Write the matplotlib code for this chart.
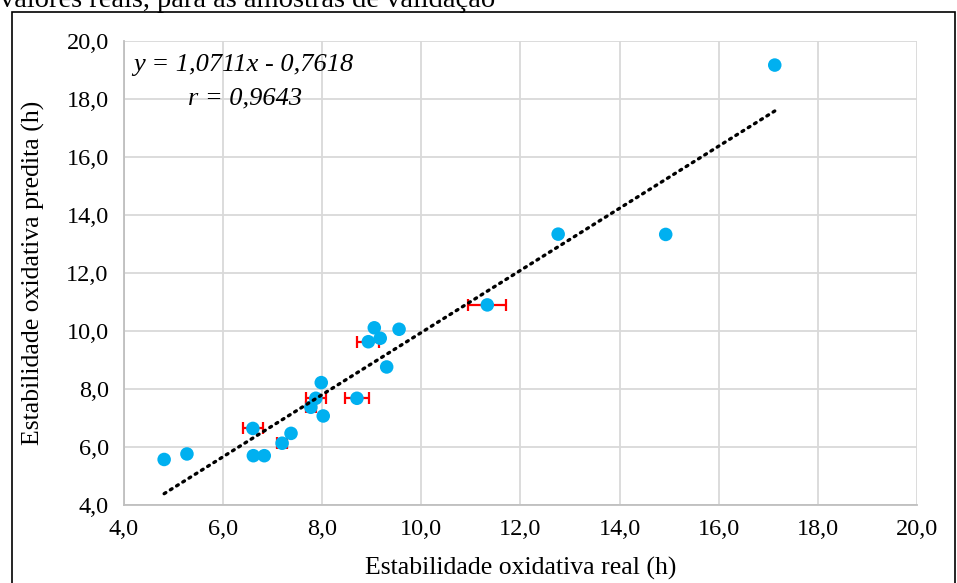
import numpy as np
import matplotlib.pyplot as plt
from matplotlib.patches import Rectangle

plt.rcParams['font.family'] = ['Liberation Serif', 'DejaVu Serif']

# measured (real) vs predicted oxidative stability, validation samples
real = [4.81, 5.27, 6.61, 6.83, 6.60, 7.19, 7.37, 7.77, 7.87, 7.98, 8.02,
        8.70, 8.93, 9.05, 9.17, 9.55, 9.30, 11.33, 12.76, 14.93, 17.13]
pred = [5.57, 5.76, 5.70, 5.70, 6.64, 6.13, 6.47, 7.37, 7.68, 8.22, 7.07,
        7.68, 9.63, 10.11, 9.75, 10.06, 8.76, 10.90, 13.34, 13.33, 19.17]
xerr = [0, 0, 0, 0, 0.2, 0.1, 0, 0.1, 0.2, 0, 0,
        0.25, 0.22, 0, 0, 0, 0, 0.38, 0, 0, 0]

slope, intercept = 1.0711, -0.7618
ticks = [4, 6, 8, 10, 12, 14, 16, 18, 20]
tick_labels = ['4,0', '6,0', '8,0', '10,0', '12,0', '14,0', '16,0', '18,0', '20,0']

fig = plt.figure(figsize=(9.57, 5.83), dpi=100)
ax = fig.add_axes([124/957, 1-505/583, (917-124)/957, (505-41)/583])

ax.set_xlim(4, 20)
ax.set_ylim(4, 20)
ax.set_xticks(ticks)
ax.set_yticks(ticks)
ax.set_xticklabels(tick_labels)
ax.set_yticklabels(tick_labels)
ax.tick_params(length=0, labelsize=17.5)
ax.tick_params(axis='x', pad=10)
ax.tick_params(axis='y', pad=11)
ax.grid(True, color='#d9d9d9', linewidth=1.3)
ax.set_axisbelow(True)
for s in ['top', 'right']:
    ax.spines[s].set_visible(False)
for s in ['left', 'bottom']:
    ax.spines[s].set_color('#bfbfbf')
    ax.spines[s].set_linewidth(1.3)

# red horizontal error bars (only where nonzero)
xs = [x for x, e in zip(real, xerr) if e > 0]
ys = [y for y, e in zip(pred, xerr) if e > 0]
es = [e for e in xerr if e > 0]
ax.errorbar(xs, ys, xerr=es, fmt='none', ecolor='#ff0000', elinewidth=1.6,
            capsize=4, capthick=1.6, zorder=2)

ax.scatter(real, pred, s=95, color='#00b0f0', edgecolors='none', zorder=3)

xl = np.array([min(real), max(real)])
ax.plot(xl, slope*xl + intercept, color='black', linestyle=(0, (0.6, 1.6)),
        linewidth=2.4, dash_capstyle='round', zorder=4)

ax.text(0.011, 0.948, 'y = 1,0711x - 0,7618', transform=ax.transAxes,
        fontsize=19, style='italic', ha='left', va='center')
ax.text(0.153, 0.877, 'r = 0,9643', transform=ax.transAxes,
        fontsize=19, style='italic', ha='center', va='center')

ax.set_xlabel('Estabilidade oxidativa real (h)', fontsize=18.5)
ax.set_ylabel('Estabilidade oxidativa predita (h)', fontsize=18.5)
ax.xaxis.set_label_coords(0.5, -(568-505)/464, transform=ax.transAxes)
ax.yaxis.set_label_coords(-(124-33)/793, 0.5, transform=ax.transAxes)
ax.xaxis.label.set_va('center')
ax.yaxis.label.set_va('center')

# figure frame and cut-off caption line above
fig.patches.append(Rectangle((12/957, -0.05), (955-12)/957, 1.05-12/583,
                             transform=fig.transFigure, fill=False,
                             edgecolor='black', linewidth=1.2))
fig.text(0, 1-7/583, 'valores reais, para as amostras de validação',
         fontsize=20.5, ha='left', va='baseline')

fig.savefig('out.png', dpi=100)
